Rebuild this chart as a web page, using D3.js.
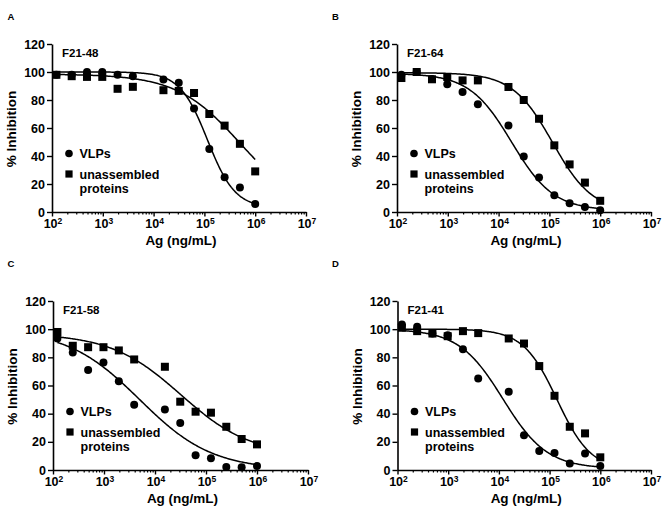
<!DOCTYPE html>
<html>
<head>
<meta charset="utf-8">
<script src="https://cdn.jsdelivr.net/npm/d3@7"></script>
<style>
  html, body { margin: 0; padding: 0; background: #fff; }
  svg { display: block; font-family: "Liberation Sans", Arial, Helvetica, sans-serif; font-weight: bold; }
</style>
</head>
<body>
<svg id="chart" width="669" height="518"></svg>
<script>
// ---------------- DATA ----------------
const concentrations = [122.07, 244.14, 488.28, 976.56, 1953.13, 3906.25, 15625, 31250, 62500, 125000, 250000, 500000, 1000000];
const xTickExponents = [2, 3, 4, 5, 6, 7];
const yTicks = [0, 20, 40, 60, 80, 100, 120];
const panelLetters = ["A", "B", "C", "D"];
const panelTitles = ["F21-48", "F21-64", "F21-58", "F21-41"];
const seriesNames = ["VLPs", "unassembled proteins"];

const vlpA = [98, 98, 100, 100, 98, 97, 94.6, 92.4, 74, 45, 24.8, 17.5, 5.7];
const upA  = [98, 97, 96.5, 96.5, 88, 89.4, 87, 86.5, 85, 70, 61.7, 48.7, 29];
const vlpB = [98, 100, 95, 91.2, 85.8, 77, 61.8, 39.6, 24.6, 12, 6.2, 3.6, 1.2];
const upB  = [95.7, 100, 94.8, 96.4, 94, 94, 89.3, 80, 66.6, 47.6, 34, 21, 8];
const vlpC = [93.4, 83.5, 71, 76.4, 63, 46.3, 43, 33.3, 10.4, 8.3, 2.1, 1.9, 2.8];
const upC  = [98, 88.2, 87.2, 87.2, 84.9, 78.5, 73.3, 48.5, 41.4, 40.7, 30.7, 22, 18.2];
const vlpD = [103.3, 101.7, 97, 95.7, 85.8, 65, 55.6, 24.6, 13.5, 12, 4.7, 11.8, 2.8];
const upD  = [101, 98.6, 96.9, 95, 98.6, 97.2, 93.4, 89.8, 73.8, 52.7, 30.7, 26, 9];

// fitted 4-parameter logistic curves: [top, bottom, IC50, hill]
const fitVlpA = [100, 3, 115000, 1.6];
const fitUpA  = [98.5, 0, 500000, 0.7];
const fitVlpB = [99, 1, 18000, 1.05];
const fitUpB  = [99.5, 0, 115000, 1.1];
const fitVlpC = [100, 0, 5000, 0.61];
const fitUpC  = [97, 10, 32000, 0.63];
const fitVlpD = [100, 1, 12000, 1.0];
const fitUpD  = [100, 0, 140000, 1.3];

// ---------------- LAYOUT ----------------
const layout = [
  { ax: 52,    x7: 306, y0: 212, y120: 44,  lx: 7.5, ly: 19.5 },
  { ax: 397,   x7: 651, y0: 212, y120: 44,  lx: 332, ly: 19.5 },
  { ax: 53,    x7: 308, y0: 470, y120: 301, lx: 7.5, ly: 267 },
  { ax: 397.5, x7: 651, y0: 470, y120: 301, lx: 332, ly: 267 }
];
const panels = [
  { vlp: vlpA, up: upA, fv: fitVlpA, fu: fitUpA },
  { vlp: vlpB, up: upB, fv: fitVlpB, fu: fitUpB },
  { vlp: vlpC, up: upC, fv: fitVlpC, fu: fitUpC },
  { vlp: vlpD, up: upD, fv: fitVlpD, fu: fitUpD }
];

const svg = d3.select("#chart");
const logistic = (p, x) => p[1] + (p[0] - p[1]) / (1 + Math.pow(x / p[2], p[3]));

panels.forEach((pd, i) => {
  const L = layout[i];
  const x = d3.scaleLog().domain([100, 1e7]).range([L.ax, L.x7]);
  const y = d3.scaleLinear().domain([0, 120]).range([L.y0, L.y120]);
  const g = svg.append("g");

  // panel letter
  g.append("text").attr("x", L.lx).attr("y", L.ly).attr("font-size", 9.5).text(panelLetters[i]);

  // minor ticks
  const minors = [];
  for (let e = 2; e < 7; e++) for (let m = 2; m <= 9; m++) minors.push(m * Math.pow(10, e));
  g.append("g").attr("transform", `translate(0,${L.y0})`)
    .call(d3.axisBottom(x).tickValues(minors).tickSize(2.5).tickFormat(() => ""))
    .call(s => s.select(".domain").remove())
    .call(s => s.selectAll("line").attr("stroke", "#000").attr("stroke-width", 1.2));

  // major x axis
  const majors = xTickExponents.map(e => Math.pow(10, e));
  const xa = g.append("g").attr("transform", `translate(0,${L.y0})`)
    .call(d3.axisBottom(x).tickValues(majors).tickSize(4.5).tickSizeOuter(0).tickFormat(() => ""));
  xa.select(".domain").attr("stroke", "#000").attr("stroke-width", 1.6);
  xa.selectAll(".tick line").attr("stroke", "#000").attr("stroke-width", 1.4);
  xTickExponents.forEach(e => {
    const t = g.append("text").attr("x", x(Math.pow(10, e)) + 1).attr("y", L.y0 + 16)
      .attr("text-anchor", "middle").attr("font-size", 12.5);
    t.append("tspan").text("10");
    t.append("tspan").attr("dy", -4.5).attr("font-size", 8.5).text(String(e));
  });

  // y axis
  const ya = g.append("g").attr("transform", `translate(${L.ax},0)`)
    .call(d3.axisLeft(y).tickValues(yTicks).tickSize(5).tickSizeOuter(0).tickPadding(2));
  ya.select(".domain").attr("stroke", "#000").attr("stroke-width", 1.6);
  ya.selectAll(".tick line").attr("stroke", "#000").attr("stroke-width", 1.4);
  ya.selectAll(".tick text").attr("font-size", 12.5).attr("font-weight", "bold")
    .attr("font-family", '"Liberation Sans", Arial, sans-serif').attr("fill", "#000");

  // axis titles
  g.append("text").attr("transform", `translate(${L.ax - 36},${(L.y0 + L.y120) / 2 + 1}) rotate(-90)`)
    .attr("text-anchor", "middle").attr("font-size", 13.5).text("% Inhibition");
  g.append("text").attr("x", (L.ax + L.x7) / 2 + 2).attr("y", L.y0 + 32.5)
    .attr("text-anchor", "middle").attr("font-size", 13.5).text("Ag (ng/mL)");

  // panel title
  g.append("text").attr("x", L.ax + 10).attr("y", L.y120 + 13).attr("font-size", 11.5).text(panelTitles[i]);

  // fitted curves
  const lo = Math.log10(concentrations[0]), hi = Math.log10(concentrations[concentrations.length - 1]);
  const xs = d3.range(0, 201).map(k => Math.pow(10, lo + k / 200 * (hi - lo)));
  const line = d3.line().x(d => x(d[0])).y(d => y(d[1]));
  [pd.fv, pd.fu].forEach(p => {
    g.append("path").datum(xs.map(v => [v, logistic(p, v)]))
      .attr("d", line).attr("fill", "none").attr("stroke", "#000").attr("stroke-width", 1.5);
  });

  // markers
  g.selectAll(null).data(pd.up.map((v, k) => [concentrations[k], v])).join("rect")
    .attr("x", d => x(d[0]) - 4).attr("y", d => y(d[1]) - 4).attr("width", 8).attr("height", 8).attr("fill", "#000");
  g.selectAll(null).data(pd.vlp.map((v, k) => [concentrations[k], v])).join("circle")
    .attr("cx", d => x(d[0])).attr("cy", d => y(d[1])).attr("r", 4).attr("fill", "#000");

  // legend
  const lgx = L.ax + 17, lgy = L.y0 - 58.5;
  g.append("circle").attr("cx", lgx).attr("cy", lgy).attr("r", 3.8).attr("fill", "#000");
  g.append("text").attr("x", lgx + 10.5).attr("y", lgy + 4.3).attr("font-size", 12.5).text(seriesNames[0]);
  g.append("rect").attr("x", lgx - 3.6).attr("y", lgy + 20.5 - 3.6).attr("width", 7.2).attr("height", 7.2).attr("fill", "#000");
  const words = seriesNames[1].split(" ");
  g.append("text").attr("x", lgx + 10.5).attr("y", lgy + 25).attr("font-size", 12.5).text(words[0]);
  g.append("text").attr("x", lgx + 10.5).attr("y", lgy + 39.5).attr("font-size", 12.5).text(words[1]);
});
</script>
</body>
</html>
